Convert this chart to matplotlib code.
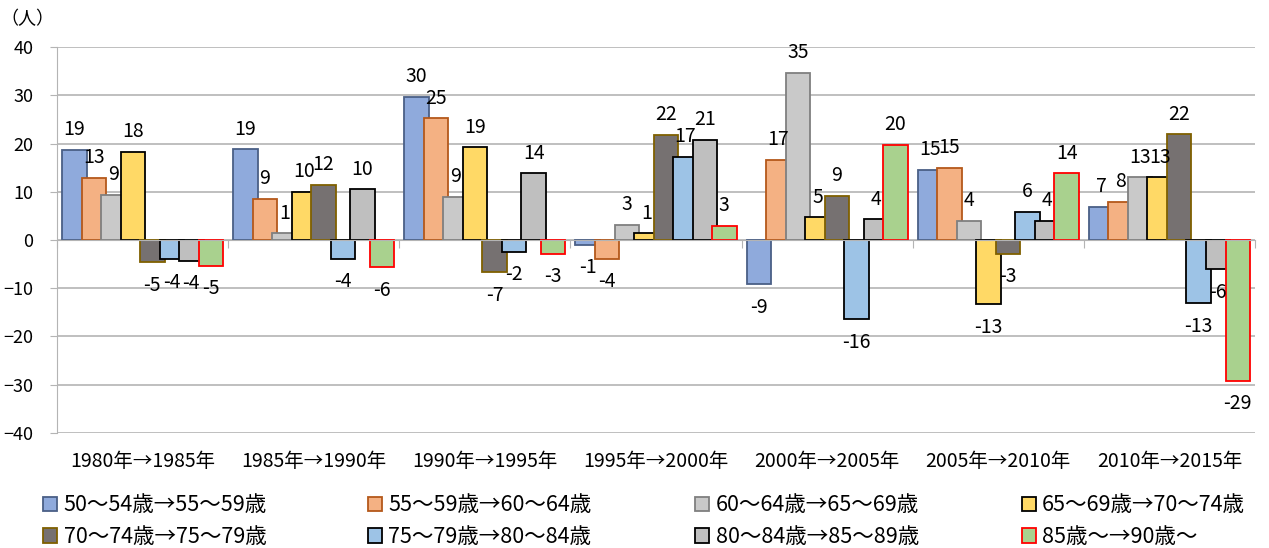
import matplotlib
matplotlib.use('Agg')
import matplotlib.pyplot as plt
import numpy as np

plt.rcParams['font.family'] = ['Noto Sans CJK JP', 'DejaVu Sans']

periods = ['1980年→1985年', '1985年→1990年', '1990年→1995年', '1995年→2000年',
           '2000年→2005年', '2005年→2010年', '2010年→2015年']

series_names = ['50～54歳→55～59歳', '55～59歳→60～64歳', '60～64歳→65～69歳', '65～69歳→70～74歳',
                '70～74歳→75～79歳', '75～79歳→80～84歳', '80～84歳→85～89歳', '85歳～→90歳～']

s1 = [18.7, 18.8, 29.7, -1.0, -9.2, 14.6, 6.9]
s2 = [12.9, 8.6, 25.2, -3.9, 16.6, 15.0, 7.9]
s3 = [9.4, 1.4, 9.0, 3.2, 34.7, 4.0, 13.0]
s4 = [18.3, 10.0, 19.2, 1.4, 4.7, -13.3, 13.0]
s5 = [-4.6, 11.5, -6.7, 21.8, 9.2, -2.9, 21.9]
s6 = [-4.0, -3.9, -2.4, 17.3, -16.4, 5.9, -13.1]
s7 = [-4.3, 10.5, 13.8, 20.8, 4.3, 4.0, -6.1]
s8 = [-5.3, -5.6, -2.8, 2.9, 19.7, 13.8, -29.2]
all_series = [s1, s2, s3, s4, s5, s6, s7, s8]

fills = ['#8FAADC', '#F4B183', '#C9C9C9', '#FFD966', '#767171', '#9DC3E6', '#BFBFBF', '#A9D18E']
edges = ['#4A5F86', '#B4581A', '#7F7F7F', '#000000', '#7F6000', '#000000', '#000000', '#FF0000']

fig = plt.figure(figsize=(12.69, 5.48), dpi=100)
ax = fig.add_axes([0.0449, 0.2099, 0.9441, 0.7043])

x = np.arange(len(periods))
step = 0.114
width = 0.143
handles = []
for k, (vals, fc, ec) in enumerate(zip(all_series, fills, edges)):
    pos = x + (k - 3.5) * step
    b = ax.bar(pos, vals, width, color=fc, edgecolor=ec, linewidth=1.3, label=series_names[k], zorder=2 + k * 0.01)
    handles.append(b)
    for px, v in zip(pos, vals):
        if v >= 0:
            ax.annotate(f'{round(v):d}', (px, v), xytext=(0, 7), textcoords='offset points',
                        ha='center', va='bottom', fontsize=14, zorder=5)
        else:
            ax.annotate(f'{round(v):d}', (px, v), xytext=(0, -9), textcoords='offset points',
                        ha='center', va='top', fontsize=14, zorder=5)

ax.set_ylim(-40, 40)
ax.set_xlim(-0.5, 6.5)
ax.set_yticks(np.arange(-40, 41, 10))
ax.yaxis.grid(True, color='#B4B4B4', linewidth=1.2, zorder=0)
ax.set_axisbelow(True)
ax.tick_params(axis='y', length=5, color='#B4B4B4', labelsize=13, pad=12)

ax.spines['bottom'].set_position(('data', 0))
ax.spines['bottom'].set_color('#B4B4B4')
ax.spines['left'].set_color('#B4B4B4')
ax.spines['top'].set_visible(False)
ax.spines['right'].set_visible(False)
ax.set_xticks(np.arange(-0.5, 7, 1))
ax.set_xticklabels([])
ax.tick_params(axis='x', length=6, color='#B4B4B4')

for i, p in enumerate(periods):
    ax.text(i, -0.073, p, transform=ax.get_xaxis_transform(), ha='center', va='center', fontsize=14)

fig.text(0.0, 0.965, '（人）', fontsize=13, ha='left', va='center')

col_x = [0.034, 0.290, 0.548, 0.805]
for c in range(4):
    fig.legend(handles=[handles[c], handles[c + 4]], loc='upper left', bbox_to_anchor=(col_x[c], 0.098),
               frameon=False, fontsize=15.5, handlelength=0.65, handleheight=0.65, handletextpad=0.3,
               labelspacing=0.45, borderaxespad=0, borderpad=0)

fig.savefig('out.png', dpi=100)
